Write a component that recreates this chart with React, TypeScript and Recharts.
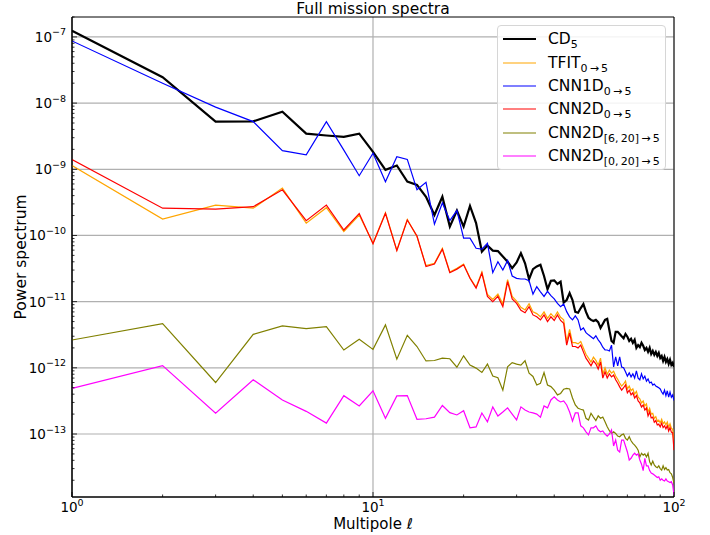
import React from "react";
import {
	LineChart,
	Line,
	XAxis,
	YAxis,
	CartesianGrid,
	ReferenceArea,
} from "recharts";

// multipole index, l = 1..100
const ell = Array.from({ length: 100 }, (_, i) => i + 1);

const cd5 = [
	1.24e-7, 2.46e-8, 5.25e-9, 5.3e-9, 7.4e-9, 3.46e-9, 3.24e-9, 3.09e-9, 3.46e-9, 1.83e-9,
	9.8e-10, 1.14e-9, 6.5e-10, 5.8e-10, 3.85e-10, 2.04e-10, 3.85e-10, 1.36e-10, 2.38e-10, 1.36e-10,
	2.79e-10, 1.54e-10, 5.7e-11, 7.06e-11, 5.9e-11, 5.8e-11, 4.8e-11, 4.0e-11, 3.2e-11, 3.9e-11,
	5.4e-11, 3.8e-11, 2.18e-11, 3.1e-11, 3.4e-11, 3.6e-11, 2.44e-11, 1.54e-11, 2.07e-11, 2.1e-11,
	1.85e-11, 2.0e-11, 9.7e-12, 1.06e-11, 1.35e-11, 1.06e-11, 7.0e-12, 6.8e-12, 8.0e-12, 9.2e-12,
	7.0e-12, 5.7e-12, 5.3e-12, 5.1e-12, 5.3e-12, 4.9e-12, 4.0e-12, 4.6e-12, 5.3e-12, 5.5e-12,
	3.7e-12, 2.55e-12, 2.38e-12, 3.5e-12, 3.5e-12, 3.25e-12, 3.0e-12, 2.8e-12, 3.25e-12, 2.95e-12,
	2.55e-12, 2.75e-12, 2.38e-12, 2.65e-12, 2.0e-12, 2.2e-12, 2.05e-12, 2.38e-12, 2.15e-12, 1.86e-12,
	2.0e-12, 1.74e-12, 2.0e-12, 1.62e-12, 1.8e-12, 1.57e-12, 1.74e-12, 1.51e-12, 1.68e-12, 1.41e-12,
	1.51e-12, 1.27e-12, 1.46e-12, 1.23e-12, 1.36e-12, 1.15e-12, 1.32e-12, 1.11e-12, 1.19e-12, 1.03e-12,
];

const tfit = [
	1.14e-9, 1.77e-10, 2.88e-10, 2.58e-10, 5.2e-10, 1.53e-10, 2.63e-10, 1.15e-10, 2.04e-10, 7.6e-11,
	2.2e-10, 6.0e-11, 1.74e-10, 9.6e-11, 3.5e-11, 3.8e-11, 6.4e-11, 2.8e-11, 3.2e-11, 3.7e-11,
	2.3e-11, 1.65e-11, 2.8e-11, 1.28e-11, 1.08e-11, 1.3e-11, 9.2e-12, 2.15e-11, 1.2e-11, 1.02e-11,
	8.2e-12, 7.5e-12, 9.3e-12, 7.0e-12, 6.6e-12, 5.9e-12, 7.0e-12, 5.6e-12, 6.6e-12, 5.8e-12,
	7.0e-12, 5.8e-12, 5.3e-12, 2.5e-12, 3.8e-12, 2.4e-12, 2.4e-12, 2.3e-12, 2.5e-12, 2.0e-12,
	1.6e-12, 1.4e-12, 1.22e-12, 1.45e-12, 1.3e-12, 1.1e-12, 1.4e-12, 8.0e-13, 1.0e-12, 8.0e-13,
	9.2e-13, 8.3e-13, 8.9e-13, 7.5e-13, 6.7e-13, 5.9e-13, 5.3e-13, 5.7e-13, 6.3e-13, 4.8e-13,
	5.3e-13, 4.5e-13, 4.8e-13, 4.0e-13, 4.4e-13, 3.6e-13, 3.4e-13, 2.95e-13, 3.15e-13, 2.65e-13,
	2.85e-13, 2.15e-13, 2.45e-13, 2.0e-13, 2.05e-13, 1.72e-13, 1.83e-13, 1.57e-13, 1.62e-13, 1.47e-13,
	1.67e-13, 1.43e-13, 1.52e-13, 1.37e-13, 1.52e-13, 1.27e-13, 1.43e-13, 1.22e-13, 1.18e-13, 7.5e-14,
];

const cnn1d = [
	8.7e-8, 2.0e-8, 8.7e-9, 5.25e-9, 1.91e-9, 1.65e-9, 5.25e-9, 1.95e-9, 8.0e-10, 1.75e-9,
	6.5e-10, 1.55e-9, 1.41e-9, 4.9e-10, 6.35e-10, 1.48e-10, 3.1e-10, 1.68e-10, 2.38e-10, 9.1e-11,
	9.1e-11, 6.4e-11, 6.2e-11, 7.6e-11, 2.74e-11, 4.0e-11, 3.0e-11, 4.2e-11, 2.44e-11, 2.25e-11,
	2.2e-11, 2.2e-11, 2.07e-11, 1.3e-11, 1.68e-11, 1.41e-11, 1.2e-11, 1.43e-11, 1.23e-11, 1.1e-11,
	9.4e-12, 8.4e-12, 9.2e-12, 7.06e-12, 5.9e-12, 5.3e-12, 6.1e-12, 5.3e-12, 3.74e-12, 4.0e-12,
	3.4e-12, 3.15e-12, 2.95e-12, 2.75e-12, 3.05e-12, 2.65e-12, 2.38e-12, 2.05e-12, 1.86e-12, 1.86e-12,
	1.8e-12, 2.2e-12, 1.03e-12, 1.46e-12, 1.07e-12, 1.46e-12, 1.03e-12, 1.0e-12, 8.7e-13, 7.5e-13,
	8.4e-13, 7.3e-13, 8.1e-13, 7.0e-13, 9.0e-13, 7.0e-13, 6.6e-13, 8.1e-13, 6.8e-13, 7.5e-13,
	6.3e-13, 6.8e-13, 5.9e-13, 6.1e-13, 5.5e-13, 5.7e-13, 5.3e-13, 5.15e-13, 5.0e-13, 4.8e-13,
	4.3e-13, 4.0e-13, 4.6e-13, 3.8e-13, 4.5e-13, 3.6e-13, 4.3e-13, 3.6e-13, 3.9e-13, 3.2e-13,
];

const cnn2d = [
	1.4e-9, 2.58e-10, 2.5e-10, 2.72e-10, 4.9e-10, 1.67e-10, 2.88e-10, 1.21e-10, 2.14e-10, 7.5e-11,
	2.16e-10, 5.9e-11, 1.71e-10, 9.8e-11, 3.4e-11, 3.7e-11, 6.2e-11, 2.74e-11, 3.1e-11, 3.6e-11,
	2.25e-11, 1.6e-11, 2.7e-11, 1.2e-11, 1.0e-11, 1.2e-11, 8.4e-12, 2.0e-11, 1.1e-11, 9.4e-12,
	7.4e-12, 6.8e-12, 8.4e-12, 6.3e-12, 5.9e-12, 5.3e-12, 6.3e-12, 5.0e-12, 5.9e-12, 5.2e-12,
	6.3e-12, 5.2e-12, 4.7e-12, 2.2e-12, 3.35e-12, 2.1e-12, 2.1e-12, 2.0e-12, 2.2e-12, 1.74e-12,
	1.4e-12, 1.23e-12, 1.07e-12, 1.27e-12, 1.15e-12, 9.6e-13, 1.23e-12, 7.0e-13, 8.7e-13, 7.0e-13,
	8.1e-13, 7.3e-13, 7.8e-13, 6.6e-13, 5.9e-13, 5.15e-13, 4.6e-13, 5.0e-13, 5.5e-13, 4.2e-13,
	4.6e-13, 3.9e-13, 4.2e-13, 3.5e-13, 3.8e-13, 3.15e-13, 2.95e-13, 2.56e-13, 2.75e-13, 2.3e-13,
	2.47e-13, 1.87e-13, 2.15e-13, 1.75e-13, 1.8e-13, 1.5e-13, 1.6e-13, 1.37e-13, 1.41e-13, 1.28e-13,
	1.46e-13, 1.25e-13, 1.33e-13, 1.2e-13, 1.33e-13, 1.11e-13, 1.25e-13, 1.07e-13, 1.04e-13, 5.7e-14,
];

const cnn2d620 = [
	2.63e-12, 4.65e-12, 6.0e-13, 3.2e-12, 4.3e-12, 3.9e-12, 4.2e-12, 1.86e-12, 2.7e-12, 1.9e-12,
	4.45e-12, 1.35e-12, 3.1e-12, 2.1e-12, 1.27e-12, 1.29e-12, 1.4e-12, 1.37e-12, 1.02e-12, 1.52e-12,
	1.1e-12, 9.9e-13, 8.5e-13, 1.14e-12, 7.5e-13, 7.1e-13, 4.6e-13, 1.04e-12, 1.2e-12, 1.14e-12,
	1.1e-12, 1.28e-12, 8.3e-13, 7.4e-13, 5.5e-13, 5.85e-13, 8.5e-13, 5.5e-13, 5.2e-13, 4.6e-13,
	3.9e-13, 4.1e-13, 4.75e-13, 4.9e-13, 4.8e-13, 3.5e-13, 2.75e-13, 2.45e-13, 2.37e-13, 2.3e-13,
	1.73e-13, 1.63e-13, 2.06e-13, 1.8e-13, 1.6e-13, 1.88e-13, 1.73e-13, 1.8e-13, 1.53e-13, 1.29e-13,
	1.12e-13, 1.02e-13, 1.08e-13, 1.02e-13, 9.3e-14, 9.1e-14, 9.7e-14, 1.0e-13, 8.6e-14, 8.1e-14,
	9.1e-14, 7.9e-14, 7.2e-14, 6.8e-14, 6.3e-14, 5.7e-14, 4.5e-14, 5.1e-14, 4.8e-14, 5.0e-14,
	4.5e-14, 5.1e-14, 3.8e-14, 3.4e-14, 3.9e-14, 3.4e-14, 3.2e-14, 3.1e-14, 3.3e-14, 3.0e-14,
	2.85e-14, 3.3e-14, 2.9e-14, 3.1e-14, 2.85e-14, 2.9e-14, 2.6e-14, 2.5e-14, 2.2e-14, 1.8e-14,
];

const cnn2d020 = [
	4.9e-13, 1.08e-12, 2.06e-13, 6.6e-13, 3.27e-13, 2.2e-13, 1.46e-13, 3.8e-13, 2.65e-13, 4.5e-13,
	1.73e-13, 3.76e-13, 3.8e-13, 1.67e-13, 1.7e-13, 1.8e-13, 2.7e-13, 2.1e-13, 1.94e-13, 2.25e-13,
	1.24e-13, 1.28e-13, 2.08e-13, 1.53e-13, 2.57e-13, 1.87e-13, 2.15e-13, 2.48e-13, 2.0e-13, 1.63e-13,
	2.57e-13, 2.3e-13, 2.15e-13, 2.08e-13, 2.0e-13, 1.8e-13, 2.65e-13, 2.48e-13, 3.27e-13, 3.64e-13,
	3.27e-13, 3.05e-13, 3.16e-13, 2.75e-13, 2.15e-13, 1.57e-13, 2.08e-13, 2.08e-13, 1.33e-13, 1.24e-13,
	1.08e-13, 9.7e-14, 1.24e-13, 1.24e-13, 1.33e-13, 1.15e-13, 1.08e-13, 1.11e-13, 1.0e-13, 9.3e-14,
	1.0e-13, 1.15e-13, 6.6e-14, 8.1e-14, 5.7e-14, 5.35e-14, 8.1e-14, 8.1e-14, 6.6e-14, 5.35e-14,
	4.05e-14, 4.3e-14, 4.8e-14, 5.15e-14, 4.8e-14, 5.0e-14, 4.05e-14, 3.5e-14, 2.8e-14, 4.3e-14,
	3.3e-14, 3.3e-14, 2.8e-14, 2.57e-14, 2.5e-14, 2.4e-14, 2.3e-14, 2.2e-14, 2.25e-14, 2.0e-14,
	2.1e-14, 2.0e-14, 1.95e-14, 2.1e-14, 1.95e-14, 1.9e-14, 1.85e-14, 1.9e-14, 1.7e-14, 1.2e-14,
];

const data = ell.map((l, i) => ({
	l,
	cd5: cd5[i],
	tfit: tfit[i],
	cnn1d: cnn1d[i],
	cnn2d: cnn2d[i],
	cnn2d620: cnn2d620[i],
	cnn2d020: cnn2d020[i],
}));

const series = [
	{ key: "cd5", color: "#000000", width: 2.2, name: "CD", sub: "5" },
	{ key: "tfit", color: "#ffa500", width: 1.2, name: "TFIT", sub: "0\u2009\u2192\u20095" },
	{ key: "cnn1d", color: "#0000ff", width: 1.2, name: "CNN1D", sub: "0\u2009\u2192\u20095" },
	{ key: "cnn2d", color: "#ff0000", width: 1.2, name: "CNN2D", sub: "0\u2009\u2192\u20095" },
	{ key: "cnn2d620", color: "#808000", width: 1.2, name: "CNN2D", sub: "[6,\u200920]\u2009\u2192\u20095" },
	{ key: "cnn2d020", color: "#ff00ff", width: 1.2, name: "CNN2D", sub: "[0,\u200920]\u2009\u2192\u20095" },
];

const xMajor = [1, 10, 100];
const yMajor = [1e-13, 1e-12, 1e-11, 1e-10, 1e-9, 1e-8, 1e-7];
const Y_MIN = 1.117e-14;
const Y_MAX = 2.0e-7;

const xTicks: number[] = [];
for (const d of [1, 10]) for (let m = 1; m <= 9; m++) xTicks.push(m * d);
xTicks.push(100);

const yTicks: number[] = [];
for (let k = -14; k <= -7; k++) {
	for (let m = 1; m <= 9; m++) {
		const v = m * Math.pow(10, k);
		if (v >= Y_MIN && v <= Y_MAX) yTicks.push(v);
	}
}

const FONT = "'DejaVu Sans', sans-serif";
const PL = 72;
const PB = 497;

const isMajor = (v: number) => {
	const lg = Math.log10(v);
	return Math.abs(lg - Math.round(lg)) < 1e-6;
};

const YTick = (props: any) => {
	const { y, payload } = props;
	const v = payload.value;
	const major = isMajor(v);
	const e = Math.round(Math.log10(v));
	return (
		<g>
			<line x1={PL} x2={PL + (major ? 5 : 2.5)} y1={y} y2={y} stroke="#000" strokeWidth={0.8} />
			{major && (
				<text x={PL - 6} y={y + 5} textAnchor="end" fontFamily={FONT} fontSize={13.5} fill="#000">
					10
					<tspan dy={-6.5} fontSize={9.5}>
						{"\u2212" + -e}
					</tspan>
				</text>
			)}
		</g>
	);
};

const XTick = (props: any) => {
	const { x, payload } = props;
	const v = payload.value;
	const major = isMajor(v);
	const e = Math.round(Math.log10(v));
	return (
		<g>
			<line x1={x} x2={x} y1={PB} y2={PB - (major ? 5 : 2.5)} stroke="#000" strokeWidth={0.8} />
			{major && (
				<text x={x} y={PB + 15} textAnchor="middle" fontFamily={FONT} fontSize={13.5} fill="#000">
					10
					<tspan dy={-6.5} fontSize={9.5}>
						{String(e)}
					</tspan>
				</text>
			)}
		</g>
	);
};

const LegendBox = () => (
	<div
		style={{
			position: "absolute",
			left: 497,
			top: 25,
			width: 169,
			height: 145,
			boxSizing: "border-box",
			border: "1px solid #d6d6d6",
			borderRadius: 4,
			background: "rgba(255,255,255,0.85)",
			fontFamily: FONT,
			fontSize: 15.5,
			color: "#000",
			paddingTop: 1.5,
		}}
	>
		{series.map((s) => (
			<div key={s.key} style={{ display: "flex", alignItems: "center", height: 23.4, whiteSpace: "nowrap" }}>
				<svg width={33} height={6} style={{ marginLeft: 5, marginRight: 12, flex: "none" }}>
					<line x1={0} x2={33} y1={3} y2={3} stroke={s.color} strokeWidth={s.width} />
				</svg>
				<span>
					{s.name}
					<span style={{ fontSize: 11, position: "relative", top: 4 }}>{s.sub}</span>
				</span>
			</div>
		))}
	</div>
);

export default function App() {
	return (
		<div style={{ position: "absolute", left: 0, top: 0, width: 710, height: 535, background: "#fff" }}>
			<LineChart width={710} height={535} data={data} margin={{ top: 17, right: 36, bottom: 0, left: 0 }}>
				<CartesianGrid
					horizontalValues={yMajor}
					verticalValues={xMajor}
					stroke="#b0b0b0"
					strokeWidth={1.2}
				/>
				<XAxis
					dataKey="l"
					type="number"
					scale="log"
					domain={[1, 100]}
					allowDataOverflow
					ticks={xTicks}
					interval={0}
					tick={<XTick />}
					tickLine={false}
					axisLine={{ stroke: "#000" }}
					height={38}
				/>
				<YAxis
					type="number"
					scale="log"
					domain={[Y_MIN, Y_MAX]}
					allowDataOverflow
					ticks={yTicks}
					interval={0}
					tick={<YTick />}
					tickLine={false}
					axisLine={{ stroke: "#000" }}
					width={72}
				/>
				{series.map((s) => (
					<Line
						key={s.key}
						type="linear"
						dataKey={s.key}
						stroke={s.color}
						strokeWidth={s.width}
						dot={false}
						isAnimationActive={false}
					/>
				))}
				<ReferenceArea x1={1} x2={100} y1={Y_MIN} y2={Y_MAX} fill="none" fillOpacity={0} stroke="#000" strokeWidth={1} />
			</LineChart>
			<LegendBox />
			<svg width={710} height={535} style={{ position: "absolute", left: 0, top: 0, pointerEvents: "none" }}>
				<text x={373} y={14} textAnchor="middle" fontFamily={FONT} fontSize={15.5}>
					Full mission spectra
				</text>
				<text x={373} y={529} textAnchor="middle" fontFamily={FONT} fontSize={15}>
					Multipole ℓ
				</text>
				<text
					x={0}
					y={0}
					transform="translate(26 257) rotate(-90)"
					textAnchor="middle"
					fontFamily={FONT}
					fontSize={15.5}
				>
					Power spectrum
				</text>
			</svg>
		</div>
	);
}
